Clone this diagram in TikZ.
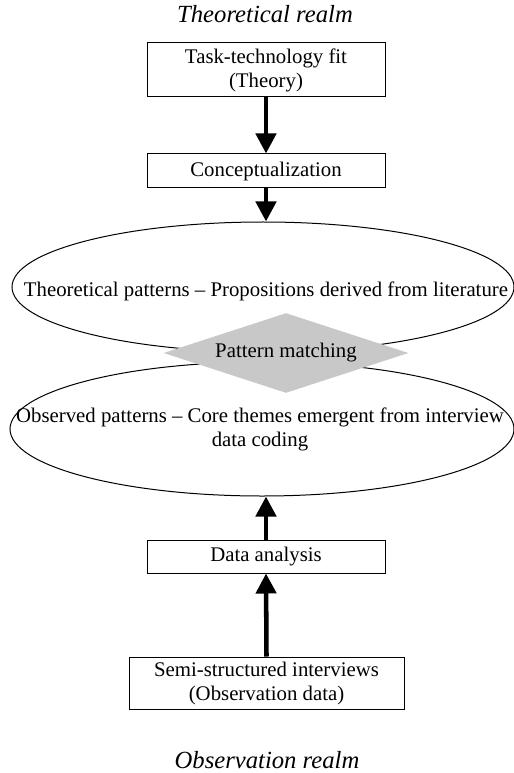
\documentclass[tikz,border=0pt]{standalone}
\usepackage{fontspec}
\setmainfont{Liberation Serif}
\usetikzlibrary{arrows.meta,shapes.geometric}

\tikzset{every picture/.style={line width=0.75pt}}
\tikzset{
  stagebox/.style={draw, rectangle, inner sep=0pt, align=center, font=\fontsize{15.6}{18}\selectfont},
  realmtext/.style={inner sep=0.75pt, font=\fontsize{18.5}{22}\selectfont\itshape},
  patternring/.style={draw, ellipse, inner sep=0pt},
  patterntext/.style={inner sep=0.75pt, align=center, font=\fontsize{15.6}{18}\selectfont},
  bigarrow/.style={line width=3.4pt, -{Triangle[length=15pt,width=15pt]}}
}
\definecolor{matchgray}{RGB}{200,200,200}

\begin{document}
\begin{tikzpicture}[x=0.75pt,y=0.75pt,yscale=-1,xscale=1]
\useasboundingbox (0,0) rectangle (513,773);

%Ellipse [id:theory]
\node [patternring, minimum width=376.5pt, minimum height=97.5pt] (theopat) at (263,287) {};
%Ellipse [id:observed]
\node [patternring, minimum width=378pt, minimum height=100.5pt] (obspat) at (262,429) {};
%Shape: Diamond [id:match]
\node [diamond, fill=matchgray, inner sep=0pt, aspect=3, minimum width=183.75pt, minimum height=60pt, font=\fontsize{15.6}{18}\selectfont] (match) at (286,353) {Pattern matching};

%Shape: Rectangle [id:ttf]
\node [stagebox, minimum width=178.5pt, minimum height=40.5pt] (ttf) at (266,70) {Task-technology fit\\(Theory)};
%Shape: Rectangle [id:concept]
\node [stagebox, minimum width=178.5pt, minimum height=25.5pt] (concept) at (266,171) {Conceptualization};
%Shape: Rectangle [id:analysis]
\node [stagebox, minimum width=178.5pt, minimum height=24.75pt] (analysis) at (266,556.5) {Data analysis};
%Shape: Rectangle [id:interviews]
\node [stagebox, minimum width=206.25pt, minimum height=39pt] (interviews) at (266.5,683) {Semi-structured interviews\\(Observation data)};

% Text Node
\node [patterntext] (theotext) at (266,291) {Theoretical patterns -- Propositions derived from literature};
% Text Node
\node [patterntext] (obstext) at (260,429) {Observed patterns -- Core themes emergent from interview\\data coding};
% Text Node
\node [realmtext] (theorealm) at (265,14) {Theoretical realm};
% Text Node
\node [realmtext] (obsrealm) at (267,760) {Observation realm};

%Straight Lines [id:arrows]
\draw [bigarrow] (ttf.south) -- (concept.north);
\draw [bigarrow] (concept.south) -- (concept.south |- theopat.north);
\draw [bigarrow] (analysis.north) -- (analysis.north |- obspat.south);
\draw [bigarrow] (interviews.north) -- (analysis.south);

\end{tikzpicture}
\end{document}
